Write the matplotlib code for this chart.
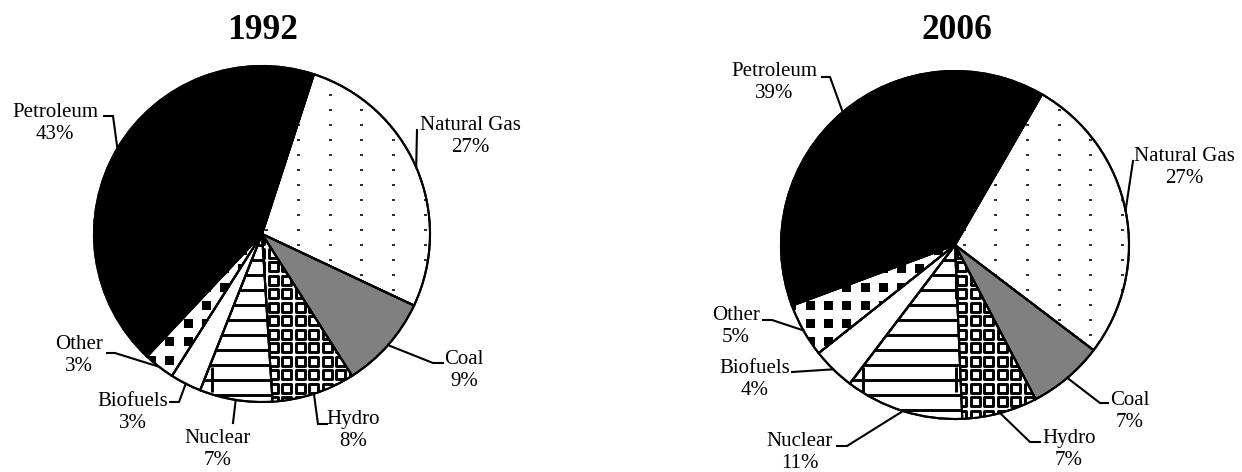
import numpy as np
import matplotlib
matplotlib.use("Agg")
import matplotlib.pyplot as plt
from matplotlib.patches import Rectangle, Wedge
from matplotlib.collections import PatchCollection, LineCollection

# ---------------- data ----------------
categories = ["Natural Gas", "Coal", "Hydro", "Nuclear", "Biofuels", "Other", "Petroleum"]
shares_1992 = [27, 9, 8, 7, 3, 3, 43]
shares_2006 = [27, 7, 7, 11, 4, 5, 39]
years = ["1992", "2006"]

# ---------------- layout / style ----------------
W, H = 1242, 472
fig = plt.figure(figsize=(W / 100, H / 100), dpi=100)
ax = fig.add_axes([0, 0, 1, 1])

SERIF = ["Liberation Serif", "DejaVu Serif"]
colors = ["white", "#808080", "white", "white", "white", "white", "black"]

pies = [
    dict(year=years[0], values=shares_1992, cx=262, cy=234, r=168, start=72, title_x=263,
         labels={
             "Natural Gas": (470, 130, [(417, 130)]),
             "Coal": (464, 364, [(433, 363), (443, 363)]),
             "Hydro": (353, 424, [(318, 424), (327, 424)]),
             "Nuclear": (218, 443, [(233, 423)]),
             "Biofuels": (133, 406, [(179, 402), (170, 402)]),
             "Other": (79, 349, [(115, 353), (107, 353)]),
             "Petroleum": (55, 117, [(113, 116), (104, 116)]),
         }),
    dict(year=years[1], values=shares_2006, cx=955, cy=245, r=174, start=60, title_x=957,
         labels={
             "Natural Gas": (1184, 161, [(1133, 161)]),
             "Coal": (1130, 405, [(1100, 403), (1108, 403)]),
             "Hydro": (1069, 443, [(1030, 442), (1040, 442)]),
             "Nuclear": (800, 446, [(847, 446), (837, 446)]),
             "Biofuels": (755, 373, [(792, 372)]),
             "Other": (736, 320, [(772, 320), (763, 320)]),
             "Petroleum": (774, 76, [(830, 77), (822, 77)]),
         }),
]


def Y(y):
    return H - y


def grid(cx, cy, r, dx, dy, ox=0.0, oy=0.0):
    xs = np.arange(cx - r - dx + ((ox - (cx - r)) % dx), cx + r + dx, dx)
    ys = np.arange(cy - r - dy + ((oy - (cy - r)) % dy), cy + r + dy, dy)
    return xs, ys


for p in pies:
    cx, cy, r = p["cx"], Y(p["cy"]), p["r"]
    wedges, _ = ax.pie(p["values"], startangle=p["start"], counterclock=False,
                       colors=colors, center=(cx, cy), radius=r,
                       wedgeprops=dict(edgecolor="black", linewidth=1.5))
    wd = dict(zip(categories, wedges))

    # Natural gas: sparse dots
    xs, ys = grid(cx, cy, r, 31.7, 15.0, 298.3, 2.0)
    pc = PatchCollection([Rectangle((x - 1.5, y - 1.2), 3, 2.4) for x in xs for y in ys],
                         facecolor="#303030", edgecolor="none", zorder=3)
    pc.set_clip_path(wd["Natural Gas"])
    ax.add_collection(pc)

    # Hydro: grid of hollow squares
    xs, ys = grid(cx, cy, r, 13.5, 13.5, 3.0, 3.0)
    pc = PatchCollection([Rectangle((x - 4.5, y - 4.5), 9, 9) for x in xs for y in ys],
                         facecolor="white", edgecolor="black", linewidth=2.1, zorder=3)
    pc.set_clip_path(wd["Hydro"])
    ax.add_collection(pc)

    # Nuclear: horizontal lines + sparse vertical segments
    xs, ys = grid(cx, cy, r, 93.0, 15.0, 212.0, 2.0)
    segs = [[(cx - r - 5, y), (cx + r + 5, y)] for y in ys]
    vy = np.arange(Y(392) - 93 * 5, cy + r + 93, 93)
    segs += [[(x, y0), (x, y0 + 25)] for x in xs for y0 in vy]
    lc = LineCollection(segs, colors="black", linewidths=2.1, zorder=3)
    lc.set_clip_path(wd["Nuclear"])
    ax.add_collection(lc)

    # Other: black square confetti
    xs, ys = grid(cx, cy, r, 18.3, 18.3, 5.0, 2.0)
    pc = PatchCollection([Rectangle((x - 4.5, y - 4.5), 9, 9) for x in xs for y in ys],
                         facecolor="black", edgecolor="none", zorder=3)
    pc.set_clip_path(wd["Other"])
    ax.add_collection(pc)

    # outlines on top
    for w in wedges:
        ax.add_patch(Wedge(w.center, w.r, w.theta1, w.theta2, fill=False,
                           edgecolor="black", linewidth=1.5, zorder=5))

    # labels + leader lines
    for name, w, val in zip(categories, wedges, p["values"]):
        tx, ty, path = p["labels"][name]
        mid = np.deg2rad((w.theta1 + w.theta2) / 2)
        ex, ey = cx + r * np.cos(mid), cy + r * np.sin(mid)
        px = [ex] + [q[0] for q in path]
        py = [ey] + [Y(q[1]) for q in path]
        ax.plot(px, py, color="black", linewidth=1.5, zorder=6, solid_joinstyle="miter")
        ax.text(tx, Y(ty), name, ha="center", va="baseline", fontsize=15,
                family=SERIF, color="black")
        ax.text(tx, Y(ty + 22), f"{val}%", ha="center", va="baseline", fontsize=15,
                family=SERIF, color="black")

    ax.text(p["title_x"], Y(39), p["year"], ha="center", va="baseline", fontsize=25.5,
            fontweight="bold", family=SERIF, color="black")

ax.set_xlim(0, W)
ax.set_ylim(0, H)
ax.set_aspect("auto")
ax.axis("off")
fig.savefig("out.png", dpi=100, facecolor="white")
